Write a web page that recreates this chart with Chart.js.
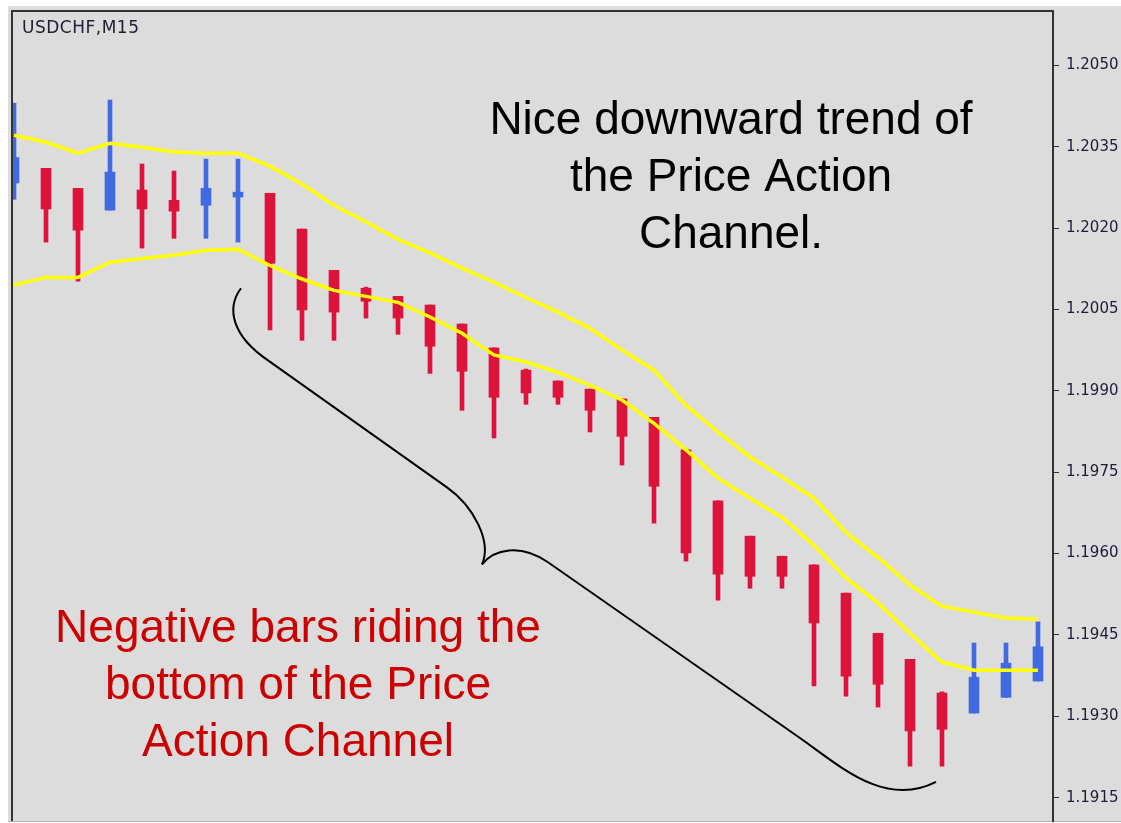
<!DOCTYPE html>
<html>
<head>
<meta charset="utf-8">
<script src="https://cdn.jsdelivr.net/npm/chart.js@4.4.1/dist/chart.umd.min.js"></script>
<style>
  html, body { margin: 0; padding: 0; background: #fff; overflow: hidden; }
  #wrap { width: 1121px; height: 823px; }
</style>
</head>
<body>
<div id="wrap"><canvas id="chart" width="1121" height="823"></canvas></div>
<script>
// USDCHF M15 candles
const CANDLE_INDEX = [0,1,2,3,4,5,6,7,8,9,10,11,12,13,14,15,16,17,18,19,20,21,22,23,24,25,26,27,28,29,30,31,32];
const OPEN  = [1.20283,1.20310,1.20273,1.20233,1.20270,1.20251,1.20242,1.20257,1.20264,1.20198,1.20122,1.20089,1.20074,1.20058,1.20023,1.19979,1.19938,1.19918,1.19903,1.19885,1.19851,1.19791,1.19697,1.19632,1.19595,1.19579,1.19527,1.19453,1.19405,1.19343,1.19306,1.19335,1.19365];
const HIGH  = [1.20430,1.20310,1.20273,1.20436,1.20318,1.20305,1.20327,1.20327,1.20264,1.20198,1.20122,1.20091,1.20074,1.20058,1.20023,1.19979,1.19940,1.19918,1.19903,1.19885,1.19851,1.19791,1.19697,1.19632,1.19595,1.19579,1.19527,1.19453,1.19405,1.19345,1.19435,1.19435,1.19474];
const LOW   = [1.20253,1.20174,1.20102,1.20233,1.20163,1.20181,1.20181,1.20174,1.20012,1.19993,1.19993,1.20034,1.20004,1.19932,1.19864,1.19813,1.19875,1.19875,1.19824,1.19763,1.19656,1.19586,1.19514,1.19536,1.19536,1.19356,1.19337,1.19317,1.19208,1.19208,1.19306,1.19335,1.19365];
const CLOSE = [1.20330,1.20235,1.20196,1.20303,1.20235,1.20231,1.20273,1.20266,1.20135,1.20049,1.20045,1.20065,1.20034,1.19982,1.19936,1.19888,1.19896,1.19888,1.19864,1.19816,1.19724,1.19601,1.19562,1.19558,1.19558,1.19472,1.19374,1.19359,1.19273,1.19276,1.19372,1.19398,1.19428];

// price action channel (yellow)
const CHANNEL_UPPER = [1.20371,1.20358,1.20338,1.20356,1.20349,1.20340,1.20338,1.20338,1.20314,1.20281,1.20242,1.20211,1.20179,1.20154,1.20126,1.20100,1.20072,1.20045,1.20015,1.19975,1.19938,1.19873,1.19824,1.19778,1.19741,1.19702,1.19639,1.19593,1.19542,1.19503,1.19492,1.19481,1.19479];
const CHANNEL_LOWER = [1.20095,1.20109,1.20109,1.20137,1.20144,1.20150,1.20159,1.20161,1.20131,1.20106,1.20085,1.20074,1.20063,1.20036,1.20006,1.19966,1.19953,1.19934,1.19910,1.19883,1.19840,1.19791,1.19739,1.19702,1.19667,1.19615,1.19555,1.19509,1.19453,1.19400,1.19385,1.19385,1.19385];

const PRICE_TICKS = [1.2050,1.2035,1.2020,1.2005,1.1990,1.1975,1.1960,1.1945,1.1930,1.1915];

// hand-drawn brace, in chart units: M p0, C p1 p2 p3, L p4, C p5 p6 p7 (two halves)
const BRACE_LEFT_X  = [7.094,6.625,6.8125,7.9375,13.531,14.375,14.9375,14.625];
const BRACE_LEFT_Y  = [1.20089,1.20052,1.20001,1.19956,1.19722,1.19687,1.19621,1.19580];
const BRACE_RIGHT_X = [14.625,15.0,15.8125,16.6875,24.5625,25.8125,27.219,28.8125];
const BRACE_RIGHT_Y = [1.19580,1.19608,1.19619,1.19584,1.19260,1.19208,1.19131,1.19179];

const SYMBOL_LABEL = "USDCHF,M15";
const NOTE_TOP = ["Nice downward trend of", "the Price Action", "Channel."];
const NOTE_BOTTOM = ["Negative bars riding the", "bottom of the Price", "Action Channel"];

const BULL = "#4169e1";
const BEAR = "#dc143c";

const candleColors = CANDLE_INDEX.map(i => CLOSE[i] >= OPEN[i] ? BULL : BEAR);

const backdrop = {
  id: "backdrop",
  beforeDraw(chart) {
    const ctx = chart.ctx;
    ctx.save();
    ctx.fillStyle = "#ffffff";
    ctx.fillRect(0, 0, chart.width, chart.height);
    ctx.fillStyle = "#dcdcdc";
    ctx.fillRect(8, 6, chart.width - 8, 815);
    ctx.fillStyle = "#b4b4b4";
    ctx.fillRect(8, 821, chart.width - 8, 1);
    ctx.restore();
  }
};

const notes = {
  id: "notes",
  afterDatasetsDraw(chart) {
    const { ctx, chartArea: a, scales: { x, y } } = chart;
    ctx.save();

    // frame on top/left of the plot
    ctx.strokeStyle = "#333";
    ctx.lineWidth = 2;
    ctx.beginPath();
    ctx.moveTo(a.left, a.bottom);
    ctx.lineTo(a.left, a.top);
    ctx.lineTo(a.right, a.top);
    ctx.stroke();

    // symbol label
    ctx.fillStyle = "#202034";
    ctx.font = "17px 'DejaVu Sans'";
    ctx.textAlign = "left";
    ctx.textBaseline = "alphabetic";
    ctx.letterSpacing = "0.5px";
    ctx.fillText(SYMBOL_LABEL, 22, 33);
    ctx.letterSpacing = "0px";

    // brace
    ctx.strokeStyle = "#000";
    ctx.lineWidth = 2;
    for (const [bx, by] of [[BRACE_LEFT_X, BRACE_LEFT_Y], [BRACE_RIGHT_X, BRACE_RIGHT_Y]]) {
      const p = bx.map((v, i) => [x.getPixelForValue(v), y.getPixelForValue(by[i])]);
      ctx.beginPath();
      ctx.moveTo(p[0][0], p[0][1]);
      ctx.bezierCurveTo(p[1][0], p[1][1], p[2][0], p[2][1], p[3][0], p[3][1]);
      ctx.lineTo(p[4][0], p[4][1]);
      ctx.bezierCurveTo(p[5][0], p[5][1], p[6][0], p[6][1], p[7][0], p[7][1]);
      ctx.stroke();
    }

    ctx.font = "46px 'Liberation Sans', Arial, sans-serif";
    ctx.textAlign = "center";
    ctx.fillStyle = "#000";
    NOTE_TOP.forEach((t, i) => ctx.fillText(t, 731, 134 + i * 57));
    ctx.fillStyle = "#cc0000";
    NOTE_BOTTOM.forEach((t, i) => ctx.fillText(t, 298, 642 + i * 57));
    ctx.restore();
  }
};

new Chart(document.getElementById("chart"), {
  type: "bar",
  data: {
    datasets: [
      {
        type: "line",
        data: CANDLE_INDEX.map(i => ({ x: i, y: CHANNEL_UPPER[i] })),
        borderColor: "#ffff00", borderWidth: 3.5, pointRadius: 0, tension: 0, order: 0
      },
      {
        type: "line",
        data: CANDLE_INDEX.map(i => ({ x: i, y: CHANNEL_LOWER[i] })),
        borderColor: "#ffff00", borderWidth: 3.5, pointRadius: 0, tension: 0, order: 0
      },
      {
        data: CANDLE_INDEX.map(i => ({ x: i, y: [OPEN[i], CLOSE[i]] })),
        backgroundColor: candleColors, borderWidth: 0, borderSkipped: false,
        barThickness: 10, grouped: false, order: 1
      },
      {
        data: CANDLE_INDEX.map(i => ({ x: i, y: [LOW[i], HIGH[i]] })),
        backgroundColor: candleColors, borderWidth: 0, borderSkipped: false,
        barThickness: 4, grouped: false, order: 2
      }
    ]
  },
  options: {
    responsive: false,
    animation: false,
    layout: { padding: { left: 12, top: 11, right: 0, bottom: 2 } },
    plugins: { legend: { display: false }, tooltip: { enabled: false } },
    scales: {
      x: {
        type: "linear", min: -0.0625, max: 32.469, offset: false, display: false
      },
      y: {
        position: "right",
        min: 1.19107, max: 1.20600,
        afterFit: s => { s.width = 68; s.paddingTop = 0; s.paddingBottom = 0; },
        afterBuildTicks: s => { s.ticks = PRICE_TICKS.map(v => ({ value: v })); },
        ticks: {
          callback: v => Number(v).toFixed(4),
          color: "#1c1c34",
          font: { family: "DejaVu Sans", size: 15 },
          padding: 7
        },
        grid: { drawOnChartArea: false, tickLength: 6, color: "#333", lineWidth: 1 },
        border: { display: true, color: "#333", width: 2 }
      }
    }
  },
  plugins: [backdrop, notes]
});
</script>
</body>
</html>
